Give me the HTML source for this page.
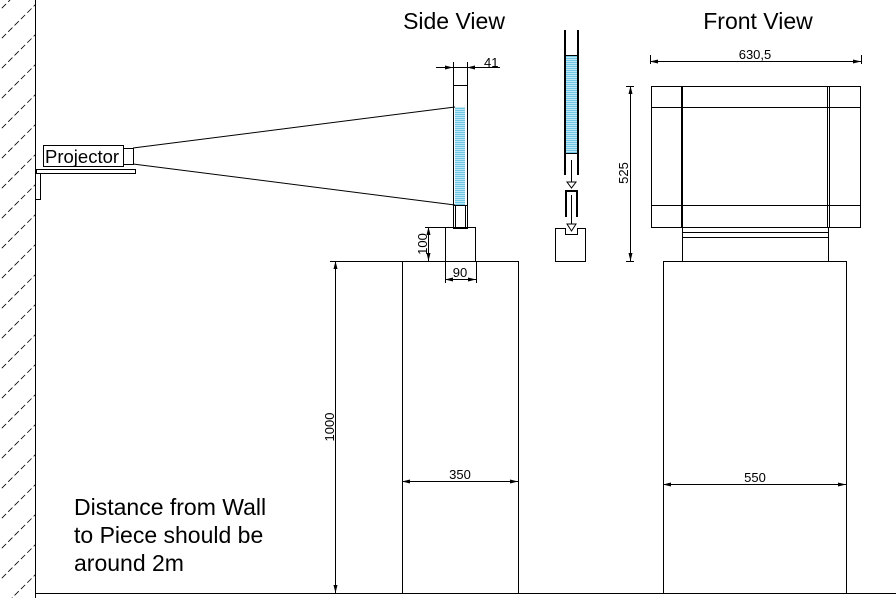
<!DOCTYPE html>
<html><head><meta charset="utf-8"><style>html,body{margin:0;background:#fff;overflow:hidden;width:896px;height:598px}svg{display:block}</style></head><body>
<svg width="896" height="598" viewBox="0 0 896 598" xmlns="http://www.w3.org/2000/svg" font-family="Liberation Sans, sans-serif">
<defs>
<clipPath id="w"><rect x="0" y="0" width="35" height="598"/></clipPath>
<pattern id="b" width="10" height="2" patternUnits="userSpaceOnUse"><rect width="10" height="1" fill="#6fc8e6"/><rect y="1" width="10" height="1" fill="#bfe6f3"/></pattern>
</defs>
<g clip-path="url(#w)" stroke="#000" stroke-width="0.8" stroke-dasharray="6 3">
<path d="M-30 40 L40 -30 M-30 70 L40 0 M-30 100 L40 30 M-30 130 L40 60 M-30 160 L40 90 M-30 190 L40 120 M-30 220 L40 150 M-30 250 L40 180 M-30 280 L40 210 M-30 310 L40 240 M-30 340 L40 270 M-30 370 L40 300 M-30 400 L40 330 M-30 430 L40 360 M-30 460 L40 390 M-30 490 L40 420 M-30 520 L40 450 M-30 550 L40 480 M-30 580 L40 510 M-30 610 L40 540 M-30 640 L40 570 M-30 670 L40 600"/>
</g>
<g stroke="#000" stroke-width="1" fill="none">
<line x1="35.5" y1="0" x2="35.5" y2="598"/>
<line x1="35" y1="593.5" x2="896" y2="593.5"/>
<rect x="43.5" y="145.5" width="80" height="21" fill="#fff"/>
<rect x="123.5" y="148.5" width="10" height="16"/>
<rect x="36.5" y="169.5" width="99" height="4"/>
<path d="M36 173.5 H40.5 V199.5 H36"/>
<line x1="133" y1="148" x2="455" y2="107"/>
<line x1="133" y1="164" x2="455" y2="205"/>
<rect x="455" y="107" width="10" height="98" fill="url(#b)" stroke="none"/>
<rect x="453.5" y="85.5" width="14" height="143"/>
<line x1="455.5" y1="205" x2="455.5" y2="228"/><line x1="465.5" y1="205" x2="465.5" y2="228"/>
<line x1="453" y1="205.5" x2="467" y2="205.5"/>
<rect x="445.5" y="227.5" width="30" height="34"/>
<rect x="402.5" y="261.5" width="116" height="332"/>
<line x1="453.5" y1="62" x2="453.5" y2="85"/><line x1="467.5" y1="62" x2="467.5" y2="85"/>
<line x1="436" y1="67.5" x2="500" y2="67.5"/>
<line x1="428.5" y1="227" x2="428.5" y2="261"/><line x1="425" y1="227.5" x2="445" y2="227.5"/>
<line x1="445.5" y1="261" x2="445.5" y2="283"/><line x1="476.5" y1="261" x2="476.5" y2="283"/>
<line x1="445" y1="279.5" x2="476" y2="279.5"/>
<line x1="335.5" y1="261" x2="335.5" y2="593"/><line x1="330" y1="261.5" x2="402" y2="261.5"/>
<line x1="402" y1="481.5" x2="518" y2="481.5"/>
<rect x="566" y="55" width="11" height="98" fill="url(#b)" stroke="none"/>
<line x1="565" y1="30" x2="565" y2="175" stroke-width="2"/><line x1="578" y1="30" x2="578" y2="175" stroke-width="2"/>
<line x1="565" y1="153.5" x2="578" y2="153.5"/><line x1="565" y1="55.5" x2="578" y2="55.5"/>
<line x1="571.5" y1="160" x2="571.5" y2="182"/><path d="M567 182 L576 182 L571.5 188 Z"/>
<path d="M566 217 V191 H577 V217" stroke-width="2"/>
<line x1="571.5" y1="195" x2="571.5" y2="224"/><path d="M567 224 L576 224 L571.5 231 Z"/>
<path d="M555.5 228.5 H565.5 V234.5 H577.5 V228.5 H585.5 V261.5 H555.5 Z"/>
<rect x="651.5" y="86.5" width="209" height="141"/>
<line x1="651" y1="107.5" x2="861" y2="107.5"/><line x1="651" y1="205.5" x2="861" y2="205.5"/>
<line x1="682" y1="86" x2="682" y2="228" stroke-width="2"/>
<line x1="827.5" y1="86" x2="827.5" y2="228"/><line x1="829.5" y1="86" x2="829.5" y2="228"/>
<path d="M682.5 227 V261 M828.5 227 V261 M682 232.5 H828 M682 237.5 H828"/>
<rect x="663.5" y="261.5" width="183" height="332"/>
<line x1="650" y1="61.5" x2="861" y2="61.5"/><line x1="650.5" y1="55" x2="650.5" y2="64"/><line x1="861.5" y1="55" x2="861.5" y2="64"/>
<line x1="630.5" y1="86" x2="630.5" y2="261"/><line x1="626" y1="86.5" x2="634" y2="86.5"/><line x1="626" y1="261.5" x2="634" y2="261.5"/>
<line x1="663" y1="484.5" x2="846" y2="484.5"/>
</g>
<g fill="#000">
<path d="M453 67.5 l-8 -2 v4 z M467 67.5 l8 -2 v4z M428.5 227 l-2 8 h4z M428.5 261 l-2 -8 h4z M445 279.5 l8 -2 v4z M476 279.5 l-8 -2 v4z M335.5 261 l-2 8 h4z M335.5 593 l-2 -8 h4z M402 481.5 l8 -2 v4z M518 481.5 l-8 -2 v4z M650 61.5 l8 -2 v4z M861 61.5 l-8 -2 v4z M630.5 86 l-2 8 h4z M630.5 261 l-2 -8 h4z M663 484.5 l8 -2 v4z M846 484.5 l-8 -2 v4z"/>
</g>
<g fill="#000">
<text x="45" y="163" font-size="18.5">Projector</text>
<text x="454" y="29" font-size="23" text-anchor="middle">Side View</text>
<text x="758" y="29" font-size="23" text-anchor="middle">Front View</text>
<text x="484" y="67" font-size="13">41</text>
<text x="460" y="277" font-size="13" text-anchor="middle">90</text>
<text x="460" y="479" font-size="13" text-anchor="middle">350</text>
<text x="755" y="482" font-size="13" text-anchor="middle">550</text>
<text x="755" y="59" font-size="13" text-anchor="middle">630,5</text>
<text transform="translate(427,244) rotate(-90)" font-size="13" text-anchor="middle">100</text>
<text transform="translate(334,427) rotate(-90)" font-size="13" text-anchor="middle">1000</text>
<text transform="translate(628,173) rotate(-90)" font-size="13" text-anchor="middle">525</text>
<text x="74" y="515" font-size="23">Distance from Wall</text>
<text x="74" y="543" font-size="23">to Piece should be</text>
<text x="74" y="571" font-size="23">around 2m</text>
</g>
</svg>
</body></html>
